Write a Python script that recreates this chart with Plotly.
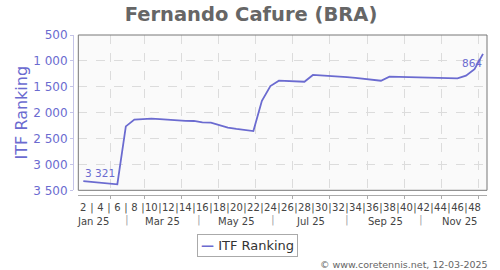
import datetime as dt
import plotly.graph_objects as go

# ---- data -------------------------------------------------------------
weeks = list(range(2, 50))  # ISO weeks 2025
ranking = [3321, 3335, 3350, 3365, 3385, 2265, 2134, 2125, 2115, 2125,
           2140, 2154, 2158, 2161, 2187, 2193, 2245, 2290, 2315, 2335,
           2356, 1772, 1486, 1383, 1390, 1397, 1403, 1272, 1280, 1286,
           1300, 1315, 1330, 1345, 1360, 1383, 1305, 1310, 1315, 1318,
           1322, 1325, 1330, 1333, 1337, 1286, 1162, 864]
series_name = "ITF Ranking"
title_text = "Fernando Cafure (BRA)"
y_ticks = [500, 1000, 1500, 2000, 2500, 3000, 3500]
week_tick_weeks = list(range(2, 49))
month_labels = ["Jan 25", "Mar 25", "May 25", "Jul 25", "Sep 25", "Nov 25"]
month_label_dates = ["2025-01-18", "2025-03-16", "2025-05-16", "2025-07-16",
                     "2025-09-16", "2025-11-16"]
month_sep_dates = ["2025-02-15", "2025-04-15", "2025-06-15", "2025-08-15",
                   "2025-10-15"]
month_grid_dates = [f"2025-{m:02d}-01" for m in range(2, 13)]
credit = "© www.coretennis.net, 12-03-2025"

# ---- derived ----------------------------------------------------------
def week_date(w):
    return dt.date.fromisocalendar(2025, w, 5)

dates = [week_date(w) for w in weeks]
week_tick_vals = [week_date(w) for w in week_tick_weeks]
week_tick_text = [str(w) if w % 2 == 0 else "|" for w in week_tick_weeks]

def fmt(v):
    return f"{v:,}".replace(",", " ")

PURPLE = "#6b6bd0"
FONT = "DejaVu Sans"
x_range = ["2025-01-05 21:00", "2025-12-08 07:00"]

# layout geometry (pixels -> paper)
W, H = 500, 270
ML, MR, MT, MB = 60, 13, 35, 60
pw, ph = W - ML - MR, H - MT - MB
def px_x(p):
    return (p - ML) / pw
def px_y(p):
    return (H - MB - p) / ph

fig = go.Figure()
fig.add_trace(go.Scatter(
    x=dates, y=ranking, mode="lines", name=series_name,
    line=dict(color=PURPLE, width=1.8), hoverinfo="x+y", showlegend=False))
fig.add_trace(go.Scatter(x=[], y=[], xaxis="x2", yaxis="y",
                         showlegend=False, hoverinfo="skip"))

xdom = [px_x(78.3), 1]
xpos = px_y(195)
fig.update_layout(
    width=W, height=H,
    margin=dict(l=ML, r=MR, t=MT, b=MB, autoexpand=False),
    paper_bgcolor="white", plot_bgcolor="#fafafa",
    separators=". ",
    font=dict(family=FONT, color="#444"),
    title=dict(text=title_text, x=0.502, xref="container", xanchor="center",
               y=1 - 14 / H, yref="container", yanchor="middle",
               font=dict(family=FONT, size=19.5, color="#666",
                         weight="bold")),
    xaxis=dict(type="date", domain=xdom, anchor="free", position=xpos,
               range=x_range, tickmode="array", tickvals=week_tick_vals,
               ticktext=week_tick_text, ticks="", showgrid=False,
               showline=True, linecolor="#aaa", linewidth=1, tickangle=0,
               ticklabelstandoff=3,
               tickfont=dict(family=FONT, size=10, color="#444"),
               zeroline=False, automargin=False),
    xaxis2=dict(type="date", overlaying="x", domain=xdom, anchor="free",
                position=xpos, range=x_range, tickmode="array",
                tickvals=month_grid_dates, showticklabels=False,
                ticks="outside", ticklen=3, tickcolor="#aaa",
                showgrid=True, gridcolor="#dcdcdc", griddash="dash",
                gridwidth=1, showline=False, zeroline=False),
    yaxis=dict(domain=[px_y(190.3), 1], anchor="free", position=px_x(73),
               range=[3500, 500], tickmode="array", tickvals=y_ticks,
               tickformat=",", ticks="outside", ticklen=3,
               tickcolor="#c4c4e8", showline=True, linecolor="#c4c4e8",
               showgrid=True, gridcolor="#dcdcdc", griddash="dash",
               zeroline=False, automargin=False,
               tickfont=dict(family=FONT, size=12, color=PURPLE),
               title=dict(text=series_name, standoff=0,
                          font=dict(family=FONT, size=16, color=PURPLE))),
    showlegend=False,
)

fig.add_shape(type="rect", xref="x domain", yref="y domain", x0=0, x1=1,
              y0=0, y1=1, line=dict(color="#777", width=1), layer="above")

# data labels on first and last points
fig.add_annotation(x=dates[0], y=ranking[0], xref="x", yref="y",
                   text=fmt(ranking[0]), showarrow=False, xanchor="left",
                   yanchor="middle", xshift=0, yshift=8,
                   font=dict(family=FONT, size=10.5, color=PURPLE))
fig.add_annotation(x=dates[-1], y=ranking[-1], xref="x", yref="y",
                   text=fmt(ranking[-1]), showarrow=False, xanchor="right",
                   yanchor="middle", xshift=1, yshift=-9,
                   font=dict(family=FONT, size=10.5, color=PURPLE))

for lab, d in zip(month_labels, month_label_dates):
    fig.add_annotation(x=d, xref="x", y=px_y(221), yref="paper",
                       yanchor="middle", text=lab, showarrow=False,
                       font=dict(family=FONT, size=10, color="#444"))
for d in month_sep_dates:
    fig.add_annotation(x=d, xref="x", y=px_y(219.5), yref="paper",
                       yanchor="middle", text="|", showarrow=False,
                       font=dict(family=FONT, size=11, color="#aaa"))

# legend box (series key)
fig.add_annotation(
    x=px_x(247), xref="paper", xanchor="center", y=px_y(245), yref="paper",
    yanchor="middle", showarrow=False,
    text=f"<span style='color:{PURPLE}'><b>—</b></span> {series_name}",
    font=dict(family=FONT, size=13, color="#333"), bordercolor="#aaa",
    borderwidth=1, borderpad=3, bgcolor="white")

fig.add_annotation(x=px_x(490), xref="paper", xanchor="right",
                   y=px_y(264), yref="paper", yanchor="middle", text=credit,
                   showarrow=False, font=dict(family=FONT, size=9.5,
                                              color="#666"))

fig.write_html("out.html")
